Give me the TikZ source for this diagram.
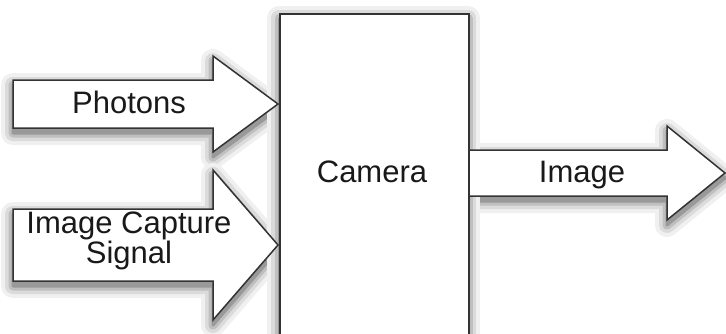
\documentclass[tikz,border=0pt]{standalone}
\usepackage{fontspec}
\setmainfont{Liberation Sans}
\usetikzlibrary{shadows,positioning}

% tail / head / tip / middle / half shaft / half head
\newcommand{\arrowlist}{13/213/278/104/24/48, 13/213/278/245/36/75, 468/667/725/173/23/47}

\begin{document}
\begin{tikzpicture}[x=1pt,y=-1pt]
	\tikzstyle{Soft}	= [shadow xshift=0pt, shadow yshift=-5pt, line join=round, opacity=1]
	\tikzstyle{Shade}	= [drop shadow={Soft, draw=black!6, fill=black!6, line width=24pt},
				   drop shadow={Soft, draw=black!14, fill=black!14, line width=16pt},
				   drop shadow={Soft, draw=black!25, fill=black!25, line width=9pt},
				   drop shadow={Soft, draw=black!40, fill=black!40, line width=3pt}]
	\tikzstyle{Block}	= [draw=black!80, line width=1.5pt, fill=white, line join=miter]
	\tikzstyle{Label}	= [font=\fontsize{31}{28}\selectfont, text=black!90, inner sep=0pt]
	
	\clip (0,0) rectangle (726,333);
	
	% shadows first, then the shapes on top
	\foreach \a/\b/\c/\m/\s/\h in \arrowlist
		\path [Shade] (\a,\m-\s) -- (\b,\m-\s) -- (\b,\m-\h) -- (\c,\m) -- (\b,\m+\h) -- (\b,\m+\s) -- (\a,\m+\s) -- cycle;
	\path [Shade] (279,13) rectangle (468,353);
	
	\foreach \a/\b/\c/\m/\s/\h in \arrowlist
		\draw [Block] (\a,\m-\s) -- (\b,\m-\s) -- (\b,\m-\h) -- (\c,\m) -- (\b,\m+\h) -- (\b,\m+\s) -- (\a,\m+\s) -- cycle;
	
	\node (camera) at (279,13) [Block, anchor=north west, minimum width=189pt, minimum height=340pt, inner sep=0pt] {};
	
	\node (photons) at (129,113) [Label, anchor=base] {Photons};
	\node (capture) at (129,241) [Label, align=center] {Image Capture\\Signal};
	\node (cameratext) at (372,182) [Label, anchor=base] {Camera};
	\node (image) at (582,182) [Label, anchor=base] {Image};
\end{tikzpicture}
\end{document}
